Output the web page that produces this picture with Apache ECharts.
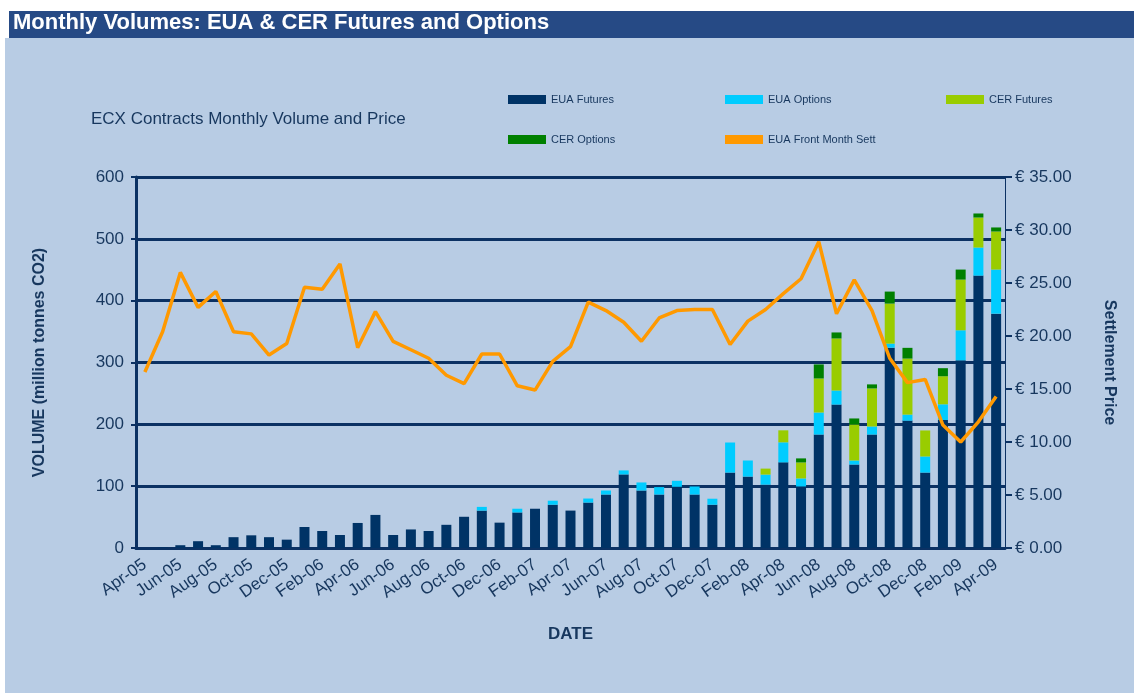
<!DOCTYPE html>
<html>
<head>
<meta charset="utf-8">
<title>Monthly Volumes: EUA & CER Futures and Options</title>
<script src="https://cdn.jsdelivr.net/npm/echarts@6/dist/echarts.min.js"></script>
<style>
  html, body { margin: 0; padding: 0; background: #ffffff; }
  #chart { width: 1134px; height: 693px; }
</style>
</head>
<body>
<div id="chart"></div>
<script>
// monthly categories, Apr-05 .. Apr-09
var months = [
  'Apr-05', 'May-05', 'Jun-05', 'Jul-05', 'Aug-05', 'Sep-05', 'Oct-05', 'Nov-05', 'Dec-05',
  'Jan-06', 'Feb-06', 'Mar-06', 'Apr-06', 'May-06', 'Jun-06', 'Jul-06', 'Aug-06', 'Sep-06',
  'Oct-06', 'Nov-06', 'Dec-06', 'Jan-07', 'Feb-07', 'Mar-07', 'Apr-07', 'May-07', 'Jun-07',
  'Jul-07', 'Aug-07', 'Sep-07', 'Oct-07', 'Nov-07', 'Dec-07', 'Jan-08', 'Feb-08', 'Mar-08',
  'Apr-08', 'May-08', 'Jun-08', 'Jul-08', 'Aug-08', 'Sep-08', 'Oct-08', 'Nov-08', 'Dec-08',
  'Jan-09', 'Feb-09', 'Mar-09', 'Apr-09'
]

// volumes, million tonnes CO2
var euaFutures = [
  0, 1, 4.5, 11, 4.5, 17.5, 20.5, 17.5, 13.5, 34,
  27.5, 21, 40.5, 53.5, 21, 30, 27.5, 37.5, 50.5, 60.5,
  41, 57.5, 63.5, 70, 60.5, 73.5, 86.5, 119, 93, 86.5,
  99, 86.5, 70, 122, 115.5, 102.5, 138.5, 99.5, 183.5, 232,
  135, 183.5, 324, 206, 122, 207, 303.5, 440.5, 379
]
var euaOptions = [
  0, 0, 0, 0, 0, 0, 0, 0, 0, 0,
  0, 0, 0, 0, 0, 0, 0, 0, 0, 6,
  0, 6, 0, 6.5, 0, 6.5, 6.5, 6.5, 13, 12,
  9.7, 13, 9.7, 48.6, 26, 16.2, 32.4, 13, 35.6, 22.7,
  6.5, 13, 6.5, 9.7, 26, 25.4, 48.6, 45.4, 71.3
]
var cerFutures = [
  0, 0, 0, 0, 0, 0, 0, 0, 0, 0,
  0, 0, 0, 0, 0, 0, 0, 0, 0, 0,
  0, 0, 0, 0, 0, 0, 0, 0, 0, 0,
  0, 0, 0, 0, 0, 9.7, 19.4, 25.9, 55.1, 84.2,
  58.3, 61.6, 64.8, 90.7, 42.1, 45.4, 82, 48.6, 61.6
]
var cerOptions = [
  0, 0, 0, 0, 0, 0, 0, 0, 0, 0,
  0, 0, 0, 0, 0, 0, 0, 0, 0, 0,
  0, 0, 0, 0, 0, 0, 0, 0, 0, 0,
  0, 0, 0, 0, 0, 0, 0, 6.5, 22.7, 9.7,
  9.7, 6.5, 19.4, 17.3, 0, 13, 16.2, 6.5, 6.5
]
// EUA front month settlement, EUR
var frontMonthSett = [
  16.6, 20.4, 26.0, 22.7, 24.2, 20.4, 20.2, 18.2, 19.3, 24.6,
  24.4, 26.8, 18.9, 22.3, 19.5, 18.7, 17.9, 16.3, 15.5, 18.3,
  18.3, 15.3, 14.9, 17.6, 19.0, 23.2, 22.4, 21.3, 19.5, 21.7,
  22.4, 22.5, 22.5, 19.2, 21.4, 22.5, 24.0, 25.4, 28.9, 22.1,
  25.3, 22.4, 17.9, 15.6, 15.9, 11.6, 10.0, 11.9, 14.3
]

var navy = '#0b3163'
var textColor = '#17375e'
var font = 'Liberation Sans, Arial, sans-serif'

var chart = echarts.init(document.getElementById('chart'))

function legendAt(name, left, top) {
  return {
    data: [name],
    left: left,
    top: top,
    icon: 'rect',
    itemWidth: 38,
    itemHeight: 9,
    itemGap: 4,
    textStyle: { color: textColor, fontSize: 11, fontFamily: font },
    selectedMode: false
  }
}

function stackBar(name, data, color) {
  return {
    name: name,
    type: 'bar',
    stack: 'vol',
    barWidth: 10,
    itemStyle: { color: color },
    data: data
  }
}

chart.setOption({
  backgroundColor: '#ffffff',
  animation: false,
  graphic: [
    { type: 'rect', shape: { x: 5, y: 38, width: 1129, height: 655 }, style: { fill: '#b8cce4' }, z: -10 },
    { type: 'rect', shape: { x: 9, y: 11, width: 1125, height: 27 }, style: { fill: '#264a85' }, z: -9 },
    {
      type: 'text', left: 13, top: 12, z: 10,
      style: { text: 'Monthly Volumes: EUA & CER Futures and Options', fill: '#ffffff', font: 'bold 22px ' + font }
    }
  ],
  title: {
    text: 'ECX Contracts Monthly Volume and Price',
    left: 86,
    top: 106,
    textStyle: { color: textColor, fontSize: 17, fontWeight: 'normal', fontFamily: font }
  },
  legend: [
    legendAt('EUA Futures', 503, 89),
    legendAt('EUA Options', 720, 89),
    legendAt('CER Futures', 941, 89),
    legendAt('CER Options', 503, 129),
    legendAt('EUA Front Month Sett', 720, 129)
  ],
  grid: { left: 136, right: 129, top: 177, bottom: 145 },
  xAxis: {
    type: 'category',
    data: months,
    name: 'DATE',
    nameLocation: 'middle',
    nameGap: 78,
    nameTextStyle: { color: textColor, fontSize: 17, fontWeight: 'bold', fontFamily: font },
    axisLine: { lineStyle: { color: navy, width: 3 } },
    axisTick: { interval: 1, length: 6, lineStyle: { color: navy, width: 2 } },
    axisLabel: { interval: 1, rotate: 35, margin: 15, color: textColor, fontSize: 17, fontFamily: font }
  },
  yAxis: [
    {
      type: 'value',
      min: 0,
      max: 600,
      interval: 100,
      name: 'VOLUME (million tonnes CO2)',
      nameLocation: 'middle',
      nameGap: 88,
      nameTextStyle: { color: textColor, fontSize: 16, fontWeight: 'bold', fontFamily: font },
      axisLine: { show: true, lineStyle: { color: navy, width: 3 } },
      axisTick: { show: true, length: 5, lineStyle: { color: navy, width: 2 } },
      axisLabel: { color: textColor, fontSize: 17, margin: 12, fontFamily: font },
      splitLine: { lineStyle: { color: navy, width: 3 } }
    },
    {
      type: 'value',
      min: 0,
      max: 35,
      interval: 5,
      name: 'Settlement Price',
      nameLocation: 'middle',
      nameRotate: -90,
      nameGap: 96,
      nameTextStyle: { color: textColor, fontSize: 16, fontWeight: 'bold', fontFamily: font },
      axisLine: { show: true, lineStyle: { color: navy, width: 1 } },
      axisTick: { show: true, length: 7, lineStyle: { color: navy, width: 2 } },
      axisLabel: {
        color: textColor, fontSize: 17, margin: 10, fontFamily: font,
        formatter: function (v) { return '\u20ac ' + v.toFixed(2) }
      },
      splitLine: { show: false }
    }
  ],
  series: [
    stackBar('EUA Futures', euaFutures, '#003366'),
    stackBar('EUA Options', euaOptions, '#00ccff'),
    stackBar('CER Futures', cerFutures, '#99cc00'),
    stackBar('CER Options', cerOptions, '#008000'),
    {
      name: 'EUA Front Month Sett',
      type: 'line',
      yAxisIndex: 1,
      symbol: 'none',
      z: 5,
      lineStyle: { color: '#ff9900', width: 3.5 },
      itemStyle: { color: '#ff9900' },
      data: frontMonthSett
    }
  ]
})
</script>
</body>
</html>
